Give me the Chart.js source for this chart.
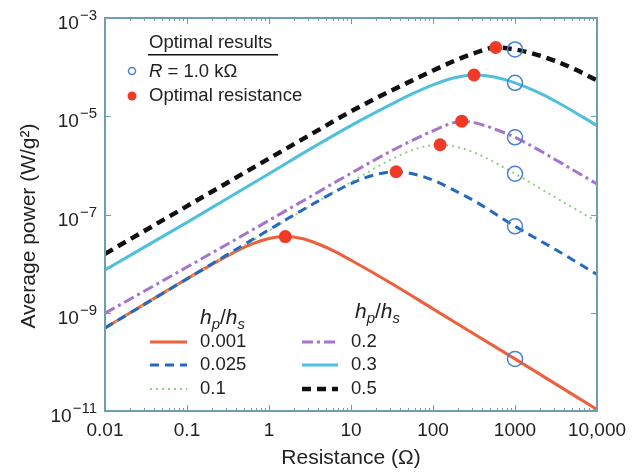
<!DOCTYPE html>
<html>
<head>
<meta charset="utf-8">
<script src="https://cdn.jsdelivr.net/npm/chart.js@4.4.1/dist/chart.umd.min.js"></script>
<style>
  html, body { margin: 0; padding: 0; background: #fff; }
  #chart { display: block; }
</style>
</head>
<body>
<canvas id="chart" width="638" height="472"></canvas>
<script>
// hp/hs ratio of each curve
const ratios = ['0.001', '0.025', '0.1', '0.2', '0.3', '0.5'];

// resistance (ohm) / average power (W/g^2)
const r_0001 = [0.01, 0.1, 0.316, 0.562, 1, 1.58, 2.51, 3.98, 6.31, 10, 31.6, 100, 1000, 10000];
const p_0001 = [4.9e-10, 4.9e-9, 1.45e-8, 2.34e-8, 3.24e-8, 3.55e-8, 3.24e-8, 2.51e-8, 1.78e-8, 1.17e-8, 3.89e-9, 1.2e-9, 1.15e-10, 1.07e-11];

const r_0025 = [0.01, 0.1, 1, 3.16, 10, 17.8, 35.5, 63.1, 100, 178, 316, 1000, 3160, 10000];
const p_0025 = [4.9e-10, 4.9e-9, 4.9e-8, 1.51e-7, 4.27e-7, 6.17e-7, 7.41e-7, 6.46e-7, 5.01e-7, 3.16e-7, 1.91e-7, 5.75e-8, 1.91e-8, 6.03e-9];

const r_01 = [0.01, 0.1, 1, 3.16, 10, 31.6, 63.1, 122, 224, 398, 1000, 3160, 10000];
const p_01 = [4.79e-10, 4.79e-9, 4.68e-8, 1.48e-7, 4.57e-7, 1.35e-6, 2.19e-6, 2.63e-6, 2.24e-6, 1.55e-6, 6.76e-7, 2.19e-7, 7.08e-8];

const r_02 = [0.01, 0.1, 1, 3.16, 10, 31.6, 63.1, 112, 158, 224, 316, 447, 631, 1000, 1778, 3162, 10000];
const p_02 = [9.77e-10, 8.51e-9, 7.59e-8, 2.29e-7, 6.92e-7, 2.0e-6, 3.55e-6, 5.5e-6, 6.92e-6, 7.94e-6, 7.41e-6, 6.31e-6, 5.13e-6, 3.72e-6, 2.24e-6, 1.29e-6, 4.17e-7];

const r_03 = [0.01, 0.1, 1, 3.16, 10, 31.6, 56.2, 100, 178, 316, 562, 1000, 1778, 3162, 10000];
const p_03 = [7.41e-9, 6.92e-8, 6.76e-7, 2.14e-6, 6.46e-6, 1.78e-5, 2.88e-5, 4.37e-5, 6.03e-5, 6.92e-5, 6.31e-5, 4.79e-5, 3.24e-5, 2.0e-5, 6.46e-6];

const r_05 = [0.01, 0.1, 1, 3.16, 10, 31.6, 56.2, 100, 178, 316, 582, 1000, 1778, 3162, 5623, 10000];
const p_05 = [1.58e-8, 1.48e-7, 1.38e-6, 4.17e-6, 1.26e-5, 3.39e-5, 5.37e-5, 8.51e-5, 1.32e-4, 1.91e-4, 2.51e-4, 2.29e-4, 1.82e-4, 1.32e-4, 8.71e-5, 5.37e-5];

// optimal resistance points
const optR = [1.58, 35.5, 122, 224, 316, 582];
const optP = [3.55e-8, 7.41e-7, 2.63e-6, 7.94e-6, 6.92e-5, 2.51e-4];

// R = 1.0 kOhm points
const kR = [1000, 1000, 1000, 1000, 1000, 1000];
const kP = [1.15e-10, 5.75e-8, 6.76e-7, 3.72e-6, 4.79e-5, 2.29e-4];

// axis ticks
const xTicks = [0.01, 0.1, 1, 10, 100, 1000, 10000];
const xTickLabels = ['0.01', '0.1', '1', '10', '100', '1000', '10,000'];
const yTicks = [1e-11, 1e-9, 1e-7, 1e-5, 1e-3];
const yTickExps = ['\u221211', '\u22129', '\u22127', '\u22125', '\u22123'];

const seriesR = [r_0001, r_0025, r_01, r_02, r_03, r_05];
const seriesP = [p_0001, p_0025, p_01, p_02, p_03, p_05];

const FONT = "'Liberation Sans', Arial, Helvetica, sans-serif";
const TXT = '#222222';
const frameColor = '#6f9db2';
const optColor = '#f03a26';
const kColor = '#4a80d8';

const styles = [
  {color: '#ee5f3c', width: 3, dash: [], order: 6},
  {color: '#2369c0', width: 3, dash: [9, 6], order: 4},
  {color: '#8fcf86', width: 2, dash: [2, 4], order: 5},
  {color: '#a574cc', width: 3, dash: [11, 4, 3, 4], order: 3},
  {color: '#4fc0dc', width: 3, dash: [], order: 2},
  {color: '#111111', width: 4.5, dash: [9, 6], order: 1}
];

const datasets = ratios.map(function(lbl, i) {
  return {
    label: lbl,
    data: seriesR[i].map(function(r, j) { return {x: r, y: seriesP[i][j]}; }),
    showLine: true,
    borderColor: styles[i].color,
    borderWidth: styles[i].width,
    borderDash: styles[i].dash,
    pointRadius: 0,
    fill: false,
    cubicInterpolationMode: 'monotone',
    order: styles[i].order
  };
});

datasets.push({
  label: 'R = 1.0 k\u03a9',
  data: kR.map(function(r, j) { return {x: r, y: kP[j]}; }),
  pointRadius: 7.5,
  pointBackgroundColor: 'rgba(0,0,0,0)',
  pointBorderColor: kColor,
  pointBorderWidth: 1.5,
  order: 0
});
datasets.push({
  label: 'Optimal resistance',
  data: optR.map(function(r, j) { return {x: r, y: optP[j]}; }),
  pointRadius: 6.5,
  pointBackgroundColor: optColor,
  pointBorderWidth: 0,
  order: 0
});

function drawHpHs(ctx, x, y) {
  ctx.fillStyle = TXT;
  ctx.textAlign = 'left';
  ctx.textBaseline = 'alphabetic';
  const big = 'italic 21px ' + FONT, sub = 'italic 15px ' + FONT, reg = '21px ' + FONT;
  ctx.font = big; ctx.fillText('h', x, y); x += ctx.measureText('h').width;
  ctx.font = sub; ctx.fillText('p', x, y + 5); x += ctx.measureText('p').width;
  ctx.font = reg; ctx.fillText('/', x, y); x += ctx.measureText('/').width;
  ctx.font = big; ctx.fillText('h', x, y); x += ctx.measureText('h').width;
  ctx.font = sub; ctx.fillText('s', x, y + 5);
}

const decor = {
  id: 'decor',
  afterDraw(chart) {
    const ctx = chart.ctx, a = chart.chartArea, x = chart.scales.x, y = chart.scales.y;
    ctx.save();

    // inward ticks
    ctx.strokeStyle = frameColor;
    ctx.lineWidth = 1;
    ctx.beginPath();
    for (let d = -2; d <= 4; d++) {
      for (let m = 1; m <= 9; m++) {
        const v = m * Math.pow(10, d);
        if (v > 10000) break;
        const px = Math.round(x.getPixelForValue(v)) + 0.5;
        const len = m === 1 ? 6 : 3;
        ctx.moveTo(px, a.bottom); ctx.lineTo(px, a.bottom - len);
        ctx.moveTo(px, a.top); ctx.lineTo(px, a.top + len);
      }
    }
    yTicks.forEach(function(v) {
      const py = Math.round(y.getPixelForValue(v)) + 0.5;
      ctx.moveTo(a.left, py); ctx.lineTo(a.left + 6, py);
      ctx.moveTo(a.right, py); ctx.lineTo(a.right - 6, py);
    });
    ctx.stroke();
    ctx.lineWidth = 2;
    ctx.strokeRect(a.left, a.top, a.right - a.left, a.bottom - a.top);

    // y tick labels as 10^n
    ctx.fillStyle = TXT;
    ctx.textBaseline = 'middle';
    ctx.textAlign = 'right';
    yTicks.forEach(function(v, i) {
      const py = y.getPixelForValue(v);
      ctx.font = '15px ' + FONT;
      const ew = ctx.measureText(yTickExps[i]).width;
      ctx.fillText(yTickExps[i], 97, py - 2);
      ctx.font = '19px ' + FONT;
      ctx.fillText('10', 97 - ew - 1, py + 6);
    });

    // y axis title
    ctx.save();
    ctx.translate(29, 226);
    ctx.rotate(-Math.PI / 2);
    ctx.textAlign = 'center';
    ctx.font = '21px ' + FONT;
    ctx.fillText('Average power (W/g\u00b2)', 0, 0);
    ctx.restore();

    // top legend
    ctx.textAlign = 'left';
    ctx.textBaseline = 'middle';
    ctx.font = '18.5px ' + FONT;
    ctx.fillText('Optimal results', 149, 43);
    ctx.fillStyle = '#111';
    ctx.fillRect(148, 54, 130, 1.5);
    ctx.fillStyle = TXT;
    ctx.strokeStyle = kColor;
    ctx.lineWidth = 1.5;
    ctx.beginPath(); ctx.arc(132, 71, 3.5, 0, Math.PI * 2); ctx.stroke();
    ctx.font = 'italic 18.5px ' + FONT;
    ctx.fillText('R', 149, 72);
    const rw = ctx.measureText('R').width;
    ctx.font = '18.5px ' + FONT;
    ctx.fillText(' = 1.0 k\u03a9', 149 + rw, 72);
    ctx.fillStyle = optColor;
    ctx.beginPath(); ctx.arc(132, 96, 4.5, 0, Math.PI * 2); ctx.fill();
    ctx.fillStyle = TXT;
    ctx.fillText('Optimal resistance', 149, 96);

    // bottom legend, two columns
    drawHpHs(ctx, 200, 324);
    drawHpHs(ctx, 355, 318);
    const cols = [{x0: 150, x1: 187, tx: 200}, {x0: 302, x1: 338, tx: 351}];
    const rows = [342, 365, 389];
    ratios.forEach(function(lbl, i) {
      const c = cols[Math.floor(i / 3)], ry = rows[i % 3];
      const ds = chart.data.datasets[i];
      ctx.strokeStyle = ds.borderColor;
      ctx.lineWidth = ds.borderWidth;
      ctx.setLineDash(ds.borderDash);
      ctx.beginPath(); ctx.moveTo(c.x0, ry); ctx.lineTo(c.x1, ry); ctx.stroke();
      ctx.setLineDash([]);
      ctx.fillStyle = TXT;
      ctx.font = '18.5px ' + FONT;
      ctx.textBaseline = 'middle';
      ctx.fillText(lbl, c.tx, ry);
    });

    ctx.restore();
  }
};

new Chart(document.getElementById('chart'), {
  type: 'scatter',
  data: {datasets: datasets},
  options: {
    responsive: false,
    animation: false,
    devicePixelRatio: 1,
    layout: {padding: {top: 18, right: 41, left: 0, bottom: 0}},
    plugins: {legend: {display: false}, tooltip: {enabled: false}},
    scales: {
      x: {
        type: 'logarithmic', min: 0.01, max: 10000,
        afterBuildTicks: function(s) { s.ticks = xTicks.map(function(v) { return {value: v}; }); },
        afterFit: function(s) { s.height = 61; },
        grid: {display: false, drawTicks: false},
        border: {display: false},
        ticks: {
          callback: function(v, i) { return xTickLabels[i]; },
          font: {family: FONT, size: 19}, color: TXT, padding: 8,
          maxRotation: 0, autoSkip: false
        },
        title: {display: true, text: 'Resistance (\u03a9)', font: {family: FONT, size: 21}, color: TXT, padding: {top: 0, bottom: 1}}
      },
      y: {
        type: 'logarithmic', min: 1e-11, max: 1e-3,
        afterBuildTicks: function(s) { s.ticks = yTicks.map(function(v) { return {value: v}; }); },
        afterFit: function(s) { s.width = 105; },
        grid: {display: false, drawTicks: false},
        border: {display: false},
        ticks: {display: false},
        title: {display: false}
      }
    }
  },
  plugins: [decor]
});
</script>
</body>
</html>
